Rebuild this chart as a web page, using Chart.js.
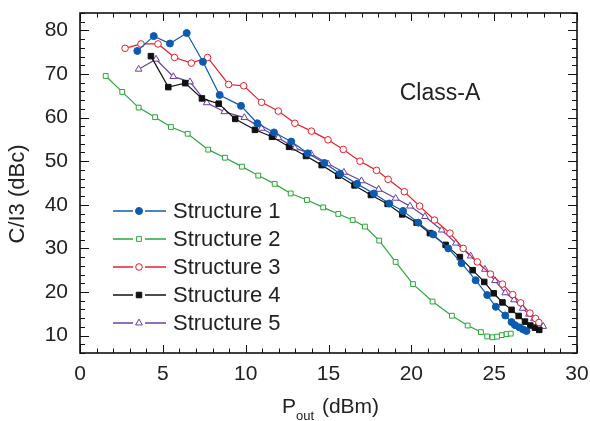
<!DOCTYPE html>
<html>
<head>
<meta charset="utf-8">
<script src="https://cdn.jsdelivr.net/npm/chart.js@4.4.0/dist/chart.umd.min.js"></script>
<style>
  html, body { margin: 0; padding: 0; background: #ffffff; }
  #wrap { width: 590px; height: 421px; position: relative; }
</style>
</head>
<body>
<div id="wrap"><canvas id="c" width="590" height="421"></canvas></div>
<script>
// ---- Data ----
const seriesNames = ['Structure 1', 'Structure 2', 'Structure 3', 'Structure 4', 'Structure 5'];

const s1x = [3.46, 4.45, 5.43, 6.44, 7.42, 8.43, 9.72, 10.7, 11.71, 12.75, 13.75, 14.75, 15.7, 16.72, 17.74, 18.67, 19.5, 20.42, 21.32, 22.23, 23.03, 23.88, 24.58, 25.1, 25.67, 26.05, 26.25, 26.52, 26.75, 26.95];
const s1y = [75.3, 78.7, 77.0, 79.4, 72.8, 65.2, 62.7, 58.7, 56.6, 54.5, 51.8, 49.6, 47.1, 44.8, 42.6, 40.3, 38.6, 35.9, 33.2, 30.0, 26.6, 22.7, 19.3, 16.6, 14.6, 13.1, 12.4, 11.9, 11.4, 11.05];

const s2x = [1.55, 2.55, 3.54, 4.53, 5.49, 6.5, 7.74, 8.75, 9.78, 10.76, 11.75, 12.72, 13.7, 14.68, 15.59, 16.46, 17.2, 18.06, 19.05, 20.1, 21.28, 22.45, 23.4, 24.2, 24.58, 24.9, 25.18, 25.46, 25.75, 26.0];
const s2y = [69.55, 65.9, 62.3, 60.1, 57.85, 56.3, 52.65, 50.8, 48.75, 46.7, 44.8, 42.6, 41.1, 39.4, 37.9, 36.5, 35.0, 31.8, 26.9, 21.8, 17.8, 14.55, 12.3, 10.8, 9.8, 9.6, 9.75, 10.1, 10.35, 10.45];

const s3x = [2.72, 3.68, 4.71, 5.71, 6.72, 7.7, 8.97, 9.88, 10.96, 11.97, 12.97, 13.97, 14.97, 15.89, 16.9, 17.9, 18.6, 19.58, 20.5, 21.4, 22.33, 23.13, 23.98, 24.78, 25.5, 26.12, 26.6, 27.16, 27.5, 27.7];
const s3y = [75.9, 76.9, 76.9, 73.8, 72.5, 73.8, 67.6, 67.3, 63.5, 61.5, 58.7, 56.9, 54.9, 52.7, 50.0, 47.9, 45.85, 43.0, 39.7, 36.5, 33.5, 30.0, 26.9, 24.1, 21.8, 19.4, 17.5, 15.15, 13.9, 13.0];

const s4x = [4.28, 5.33, 6.35, 7.36, 8.37, 9.37, 10.56, 11.59, 12.62, 13.64, 14.59, 15.59, 16.57, 17.56, 18.57, 19.45, 20.32, 21.12, 22.07, 22.93, 23.7, 24.4, 24.97, 25.5, 26.05, 26.48, 26.86, 27.18, 27.46, 27.72];
const s4y = [74.1, 67.0, 67.9, 64.4, 63.2, 59.7, 57.2, 55.6, 53.3, 51.2, 49.1, 46.7, 44.45, 42.25, 40.2, 37.8, 35.9, 33.5, 30.8, 28.0, 25.0, 22.3, 19.7, 17.6, 15.9, 14.5, 13.2, 12.3, 11.8, 11.3];

const s5x = [3.54, 4.59, 5.63, 6.64, 7.65, 8.71, 9.92, 10.96, 11.97, 12.97, 13.95, 14.97, 15.93, 16.99, 18.03, 19.05, 19.92, 20.82, 21.83, 22.69, 23.58, 24.44, 25.05, 25.67, 26.2, 26.72, 27.1, 27.4, 27.67, 27.96];
const s5y = [71.1, 73.4, 69.4, 68.2, 63.4, 61.35, 60.0, 57.55, 55.4, 53.0, 51.7, 49.4, 47.45, 45.5, 43.55, 41.5, 39.7, 37.3, 34.2, 31.2, 28.25, 25.2, 22.6, 19.8, 18.2, 16.25, 14.9, 13.85, 12.95, 12.1];

const xTicks = [0, 5, 10, 15, 20, 25, 30];
const yTicks = [10, 20, 30, 40, 50, 60, 70, 80];
const xRange = [0, 30];
const yRange = [6, 84];
const annotationText = 'Class-A';
const yTitle = 'C/I3 (dBc)';
const xTitleMain = 'P';
const xTitleSub = 'out';
const xTitleRest = ' (dBm)';

// ---- Styles ----
const FONT = '"Liberation Sans", Arial, Helvetica, sans-serif';
const styles = [
  { color: '#0d5bb0', fill: '#0d5bb0', pointStyle: 'circle', radius: 3.5 },
  { color: '#2ca63a', fill: '#ffffff', pointStyle: 'rect', radius: 3.4 },
  { color: '#e3202b', fill: '#ffffff', pointStyle: 'circle', radius: 3.3 },
  { color: '#111111', fill: '#111111', pointStyle: 'rect', radius: 3.9 },
  { color: '#6b3fa0', fill: '#ffffff', pointStyle: 'triangle', radius: 3.9 }
];
const xs = [s1x, s2x, s3x, s4x, s5x];
const ys = [s1y, s2y, s3y, s4y, s5y];

const datasets = seriesNames.map((name, i) => ({
  label: name,
  data: xs[i].map((x, j) => ({ x: x, y: ys[i][j] })),
  showLine: true,
  borderColor: styles[i].color,
  backgroundColor: styles[i].fill,
  pointBackgroundColor: styles[i].fill,
  pointBorderColor: styles[i].color,
  pointStyle: styles[i].pointStyle,
  pointRadius: styles[i].radius,
  pointBorderWidth: 1,
  borderWidth: 1.2,
  tension: 0,
  fill: false
}));

const framePlugin = {
  id: 'framePlugin',
  afterDatasetsDraw(chart) {
    const ctx = chart.ctx;
    const a = chart.chartArea;
    const xs_ = chart.scales.x, ys_ = chart.scales.y;
    ctx.save();
    ctx.strokeStyle = '#111';
    ctx.lineWidth = 1;
    ctx.beginPath();
    for (let v = xRange[0]; v <= xRange[1]; v += 1) {
      const px = Math.round(xs_.getPixelForValue(v)) + 0.5;
      const len = (v % 5 === 0) ? 8 : 4.5;
      ctx.moveTo(px, a.bottom); ctx.lineTo(px, a.bottom - len);
      ctx.moveTo(px, a.top); ctx.lineTo(px, a.top + len);
    }
    for (let v = yRange[0]; v <= yRange[1]; v += 2) {
      const py = Math.round(ys_.getPixelForValue(v)) + 0.5;
      const len = (v % 10 === 0) ? 9 : 5;
      ctx.moveTo(a.left, py); ctx.lineTo(a.left + len, py);
      ctx.moveTo(a.right, py); ctx.lineTo(a.right - len, py);
    }
    ctx.stroke();
    ctx.lineWidth = 1.6;
    ctx.strokeRect(a.left, a.top, a.right - a.left, a.bottom - a.top);
    ctx.restore();
  },
  afterDraw(chart) {
    const ctx = chart.ctx;
    ctx.save();
    ctx.fillStyle = '#222';
    ctx.font = '23px ' + FONT;
    ctx.textAlign = 'center';
    ctx.textBaseline = 'middle';
    ctx.fillText(annotationText, 440, 94);
    ctx.save();
    ctx.translate(18, 194);
    ctx.rotate(-Math.PI / 2);
    ctx.font = '22px ' + FONT;
    ctx.textAlign = 'center';
    ctx.textBaseline = 'middle';
    ctx.fillText(yTitle, 0, 0);
    ctx.restore();
    ctx.textAlign = 'left';
    ctx.textBaseline = 'alphabetic';
    ctx.font = '21px ' + FONT;
    let x0 = 282;
    const base = 413;
    ctx.fillText(xTitleMain, x0, base);
    x0 += ctx.measureText(xTitleMain).width;
    ctx.font = '13px ' + FONT;
    ctx.fillText(xTitleSub, x0, base + 7);
    x0 += ctx.measureText(xTitleSub).width + 2;
    ctx.font = '21px ' + FONT;
    ctx.fillText(xTitleRest, x0, base);
    const lx0 = 113, lx1 = 166, mx = 139, tx = 173, ly0 = 211, dy = 28;
    chart.data.datasets.forEach((ds, i) => {
      const y = ly0 + i * dy;
      ctx.strokeStyle = ds.borderColor;
      ctx.lineWidth = 1.4;
      ctx.beginPath();
      ctx.moveTo(lx0, y); ctx.lineTo(lx1, y);
      ctx.stroke();
      ctx.fillStyle = '#ffffff';
      ctx.fillRect(mx - 6, y - 6, 12, 12);
      ctx.fillStyle = ds.pointBackgroundColor;
      ctx.strokeStyle = ds.pointBorderColor;
      ctx.lineWidth = 1;
      Chart.helpers.drawPoint(ctx, { pointStyle: ds.pointStyle, radius: ds.pointRadius, borderWidth: 1, rotation: 0 }, mx, y);
      ctx.fillStyle = '#222';
      ctx.font = '22px ' + FONT;
      ctx.textAlign = 'left';
      ctx.textBaseline = 'middle';
      ctx.fillText(ds.label, tx, y + 1);
    });
    ctx.restore();
  }
};

function zeroPad(s) { s.paddingLeft = 0; s.paddingRight = 0; s.paddingTop = 0; s.paddingBottom = 0; }

new Chart(document.getElementById('c'), {
  type: 'scatter',
  data: { datasets: datasets },
  options: {
    responsive: false,
    animation: false,
    devicePixelRatio: 1,
    layout: { padding: { top: 13, right: 13, left: 0, bottom: 0 } },
    plugins: { legend: { display: false }, tooltip: { enabled: false } },
    scales: {
      x: {
        type: 'linear',
        min: xRange[0], max: xRange[1],
        grid: { display: false, drawTicks: false },
        border: { display: false },
        afterBuildTicks: (s) => { s.ticks = xTicks.map(v => ({ value: v })); },
        afterFit: (s) => { s.height = 68; zeroPad(s); },
        ticks: { color: '#222', font: { size: 21, family: FONT }, padding: 9, maxRotation: 0, autoSkip: false }
      },
      y: {
        type: 'linear',
        min: yRange[0], max: yRange[1],
        grid: { display: false, drawTicks: false },
        border: { display: false },
        afterBuildTicks: (s) => { s.ticks = yTicks.map(v => ({ value: v })); },
        afterFit: (s) => { s.width = 80; zeroPad(s); },
        ticks: { color: '#222', font: { size: 21, family: FONT }, padding: 12, autoSkip: false }
      }
    }
  },
  plugins: [framePlugin]
});
</script>
</body>
</html>
